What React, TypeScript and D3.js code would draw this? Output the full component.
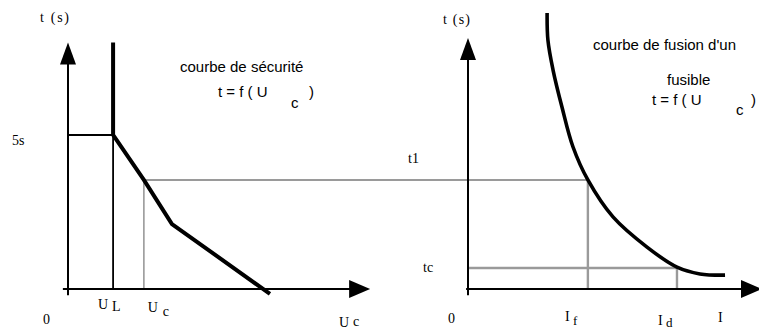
import React from 'react';
import * as d3 from 'd3';

// left panel: safety curve t = f(Uc)
const safetyU = [16.7, 16.7, 28.1, 38.5, 74.8];
const safetyT = [8, 5, 3.54, 2.11, -0.16];
const UL = 16.7;
const UC = 28.1;
const T5 = 5;

// right panel: fuse melting curve
const fuseI = [29.3, 29.6, 31.5, 34.8, 38.9, 44.4, 53.7, 66.3, 77.4, 85.9, 95.2];
const fuseT = [8.96, 8.08, 7.11, 5.91, 4.61, 3.54, 2.34, 1.36, 0.71, 0.49, 0.45];
const IF = 44.4;
const ID = 77.4;
const T1 = 3.54;
const TC = 0.68;

const W = 759;
const H = 329;

const leftX = d3.scaleLinear().domain([0, 100]).range([68, 338]);
const rightX = d3.scaleLinear().domain([0, 100]).range([468, 738]);
const tY = d3.scaleLinear().domain([0, 5]).range([289, 135]);

const serif = '"Liberation Serif", "Times New Roman", serif';
const sans = '"Liberation Sans", Arial, sans-serif';
const GRAY = '#9a9a9a';

function Axes({ x, xMin, xMax, tMin, tMax }) {
  const x0 = x(0), y0 = tY(0);
  const yTip = tY(tMax), xTip = x(xMax);
  return (
    <g stroke="#000" fill="#000">
      <line x1={x0} x2={x0} y1={tY(tMin)} y2={yTip + 20} strokeWidth={2} />
      <polygon points={`${x0},${yTip} ${x0 - 8},${yTip + 22} ${x0 + 8},${yTip + 22}`} strokeWidth={0} />
      <line x1={x(xMin)} x2={xTip - 19} y1={y0} y2={y0} strokeWidth={2} />
      <polygon points={`${xTip},${y0} ${xTip - 21},${y0 - 9} ${xTip - 21},${y0 + 9}`} strokeWidth={0} />
    </g>
  );
}

export default function App() {
  const safetyLine = d3.line<number>()
    .x(d => leftX(safetyU[d]))
    .y(d => tY(safetyT[d]));

  const fuseLine = d3.line<number>()
    .x(d => rightX(fuseI[d]))
    .y(d => tY(fuseT[d]))
    .curve(d3.curveCatmullRom);

  return (
    <svg width={W} height={H} style={{ position: 'absolute', left: 0, top: 0, background: '#fff' }}>
      {/* gray construction lines */}
      <g stroke={GRAY} fill="none">
        <line x1={leftX(UC)} x2={leftX(UC)} y1={tY(T1)} y2={tY(0)} strokeWidth={1.6} />
        <line x1={leftX(UC)} x2={rightX(IF)} y1={tY(T1)} y2={tY(T1)} strokeWidth={2} />
        <line x1={rightX(IF)} x2={rightX(IF)} y1={tY(T1)} y2={tY(0)} strokeWidth={2.4} />
        <line x1={rightX(0)} x2={rightX(ID)} y1={tY(TC)} y2={tY(TC)} strokeWidth={2.4} />
        <line x1={rightX(ID)} x2={rightX(ID)} y1={tY(TC)} y2={tY(0)} strokeWidth={2.4} />
      </g>

      {/* left panel */}
      <Axes x={leftX} xMin={-1.9} xMax={111.9} tMin={-0.2} tMax={8} />
      <g stroke="#000" fill="none">
        <line x1={leftX(0)} x2={leftX(UL)} y1={tY(T5)} y2={tY(T5)} strokeWidth={1.8} />
        <line x1={leftX(UL)} x2={leftX(UL)} y1={tY(T5)} y2={tY(0)} strokeWidth={1.8} />
        <path d={safetyLine(d3.range(safetyU.length)) || ''} strokeWidth={4} strokeLinejoin="miter" />
      </g>

      {/* right panel */}
      <Axes x={rightX} xMin={-0.7} xMax={108.9} tMin={-0.2} tMax={8.15} />
      <path d={fuseLine(d3.range(fuseI.length)) || ''} stroke="#000" fill="none" strokeWidth={3.6} />

      {/* serif labels */}
      <g fontFamily={serif} fontSize={14} fill="#000">
        <text x={40} y={22} textLength={29} lengthAdjust="spacing">t (s)</text>
        <text x={12} y={145}>5s</text>
        <text x={43} y={324}>0</text>
        <text x={leftX(UL) - 15} y={309}>U</text>
        <text x={leftX(UL) - 1} y={311}>L</text>
        <text x={leftX(UC) + 4} y={312}>U</text>
        <text x={leftX(UC) + 19} y={316}>c</text>
        <text x={339} y={327}>U</text>
        <text x={353} y={326}>c</text>

        <text x={443} y={24} textLength={27} lengthAdjust="spacing">t (s)</text>
        <text x={408} y={163}>t1</text>
        <text x={423} y={272}>tc</text>
        <text x={448} y={323}>0</text>
        <text x={rightX(IF) - 23} y={321}>I</text>
        <text x={rightX(IF) - 15} y={325} fontSize={13}>f</text>
        <text x={rightX(ID) - 19} y={325}>I</text>
        <text x={rightX(ID) - 11} y={327} fontSize={13}>d</text>
        <text x={718} y={322}>I</text>
      </g>

      {/* sans annotations */}
      <g fontFamily={sans} fontSize={15} fill="#000">
        <text x={180} y={72}>courbe de sécurité</text>
        <text x={218} y={97}>t = f ( U</text>
        <text x={291} y={108}>c</text>
        <text x={309} y={97}>)</text>

        <text x={593} y={50}>courbe de fusion d'un</text>
        <text x={667} y={85}>fusible</text>
        <text x={652} y={105}>t = f ( U</text>
        <text x={736} y={115}>c</text>
        <text x={751} y={105}>)</text>
      </g>
    </svg>
  );
}
